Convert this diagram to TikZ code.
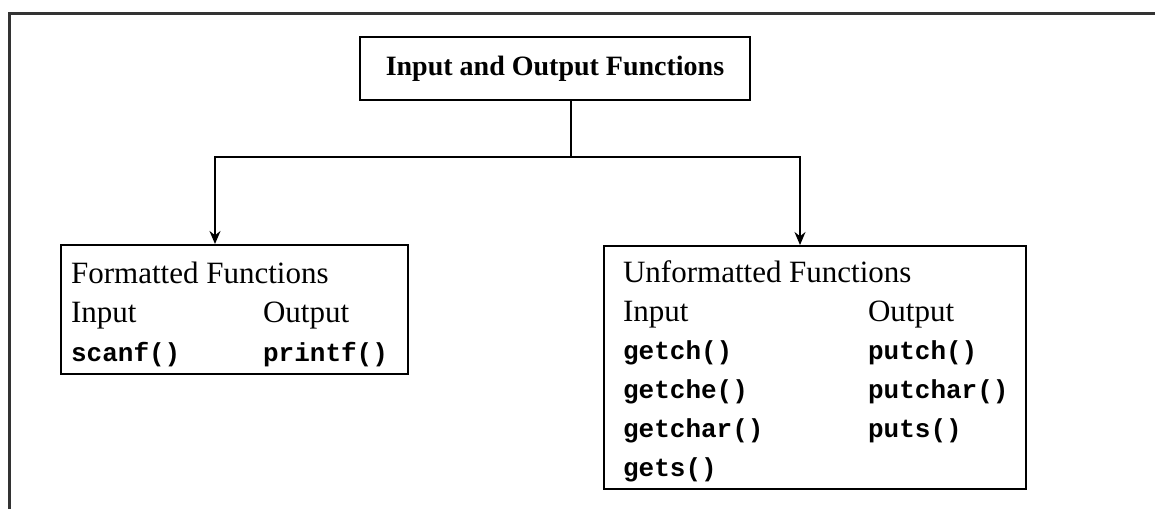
\documentclass[tikz,border=0pt]{standalone}
\usepackage{fontspec}
\setmainfont{Liberation Serif}
\setmonofont{Liberation Mono}
\usepackage{tikz}
\usetikzlibrary{positioning,arrows.meta}

\newcommand{\fn}[1]{{\fontsize{13}{19.4}\ttfamily\bfseries #1}}

\begin{document}
\begin{tikzpicture}[x=0.5pt,y=-0.5pt,>={Stealth[length=6.5pt,width=5.5pt]}]
	\useasboundingbox (0,0) rectangle (1155,509);
	% Rahmen
	\draw[line width=1.5pt,black!80] (1155,13) -- (9,13) -- (9,509);
	% Titel
	\node[draw,rectangle,line width=1.1pt,minimum width=195pt,minimum height=31.5pt,font=\bfseries\fontsize{14}{17}\selectfont] (io) at (555,68.5) {Input and Output Functions};
	% formatierte Funktionen
	\node[draw,rectangle,line width=1.1pt,anchor=north west,inner sep=0pt,minimum width=173.5pt,minimum height=64.5pt,font=\fontsize{15.5}{19.4}\selectfont] (fmt) at (60,244) {%
		\begin{tabular}{@{\hspace{5pt}}p{96pt}@{}p{72.5pt}@{}}
			\multicolumn{2}{@{\hspace{5pt}}l@{}}{\rule{0pt}{19pt}Formatted Functions}\\
			Input & Output\\
			\fn{scanf()} & \fn{printf()}
		\end{tabular}};
	% unformatierte Funktionen
	\node[draw,rectangle,line width=1.1pt,anchor=north west,inner sep=0pt,minimum width=211pt,minimum height=121.5pt,font=\fontsize{15.5}{19.4}\selectfont] (unf) at (603,245) {%
		\begin{tabular}{@{\hspace{9.5pt}}p{122.5pt}@{}p{79pt}@{}}
			\multicolumn{2}{@{\hspace{9.5pt}}l@{}}{\rule{0pt}{17.5pt}Unformatted Functions}\\
			Input & Output\\
			\fn{getch()} & \fn{putch()}\\
			\fn{getche()} & \fn{putchar()}\\
			\fn{getchar()} & \fn{puts()}\\
			\fn{gets()} &
		\end{tabular}};
	% Verbindungen
	\coordinate (split) at (571,157);
	\coordinate (fmttop) at (215,244);
	\coordinate (unftop) at (800,245);
	\draw[line width=0.9pt] (io.south -| split) -- (split);
	\draw[->, line width=0.9pt] (split) -| (fmttop);
	\draw[->, line width=0.9pt] (split) -| (unftop);
\end{tikzpicture}
\end{document}
